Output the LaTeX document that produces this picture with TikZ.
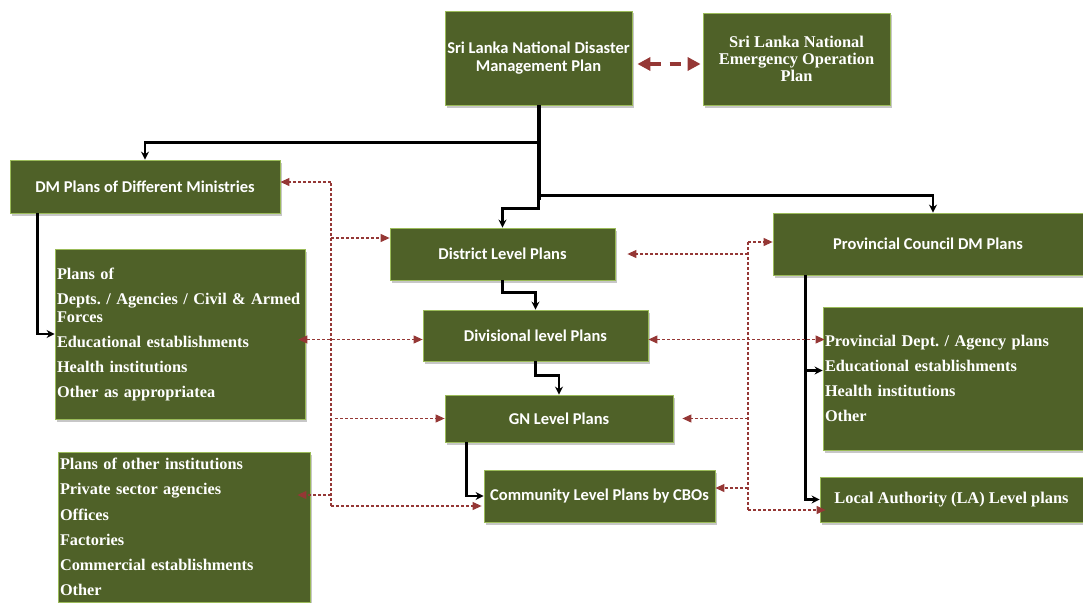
\documentclass[tikz,border=0pt]{standalone}
\usepackage{fontspec}
\setmainfont{Liberation Serif}
\newfontfamily\calfont{Carlito}
\usetikzlibrary{arrows.meta,shadows}
\definecolor{boxfill}{RGB}{79,97,40}
\definecolor{boxedge}{RGB}{155,187,89}
\definecolor{dred}{RGB}{149,55,53}
\frenchspacing
\begin{document}
\begin{tikzpicture}[x=1pt,y=-1pt,
  box/.style={draw=boxedge, line width=0.8pt, fill=boxfill, text=white, inner sep=0pt,
    drop shadow={shadow xshift=2pt,shadow yshift=-2.5pt,fill=black,opacity=0.22}},
  cal/.style={font=\calfont\bfseries\fontsize{16.5}{18}\selectfont\frenchspacing, align=center},
  tms/.style={font=\bfseries\fontsize{16.4}{17}\selectfont\frenchspacing},
  lst/.style={font=\bfseries\fontsize{16.3}{18}\selectfont\frenchspacing, align=left, inner xsep=2pt},
  dsh/.style={draw=dred, line width=1.1pt, dash pattern=on 3pt off 2pt},
  dtip/.style={-{Triangle[length=9pt,width=8pt]}},
  dtips/.style={{Triangle[length=9pt,width=8pt]}-{Triangle[length=9pt,width=8pt]}},
  blk/.style={line width=2.5pt, line join=miter, -{Stealth[length=8pt,width=8pt]}},
]
\useasboundingbox (0,0) rectangle (1083,602);

% boxes
\node[box,cal,minimum width=187pt,minimum height=94pt] (nat) at (538.5,58) {Sri Lanka National Disaster\\Management Plan};
\node[box,tms,align=center,minimum width=187pt,minimum height=92pt] (eop) at (796.5,59) {Sri Lanka National\\Emergency Operation\\Plan};
\node[box,cal,minimum width=270pt,minimum height=53pt] (dm) at (145,186.5) {DM Plans of Different Ministries};
\node[box,lst,text width=246pt,minimum height=170pt] (plof) at (180,334)
  {Plans of\\[7pt]Depts. / Agencies / Civil \& Armed\\Forces\\[7pt]Educational establishments\\[7pt]Health institutions\\[7pt]Other as appropriatea};
\node[box,cal,minimum width=225pt,minimum height=52pt] (dist) at (502.5,254) {District Level Plans};
\node[box,cal,minimum width=225pt,minimum height=51pt] (div) at (535.5,335.5) {Divisional level Plans};
\node[box,cal,minimum width=228pt,minimum height=47pt] (gn) at (559,418.5) {GN Level Plans};
\node[box,cal,minimum width=231pt,minimum height=52pt] (comm) at (599.5,496) {Community Level Plans by CBOs};
\node[box,cal,minimum width=310pt,minimum height=62pt] (prov) at (928,244) {Provincial Council DM Plans};
\node[box,lst,text width=256pt,minimum height=143pt] (pdept) at (953,378.5)
  {Provincial Dept. / Agency plans\\[7pt]Educational establishments\\[7pt]Health institutions\\[7pt]Other};
\node[box,tms,minimum width=263pt,minimum height=45pt] (la) at (951.5,499.5) {Local Authority (LA) Level plans};
\node[box,lst,text width=248pt,minimum height=150pt] (oth) at (184,527)
  {Plans of other institutions\\[7.2pt]Private sector agencies\\[7.2pt]Offices\\[7.2pt]Factories\\[7.2pt]Commercial establishments\\[7.2pt]Other};

% top dashed link
\draw[draw=dred, line width=3.5pt, dash pattern=on 11pt off 9pt,
  {Triangle[length=13pt,width=13pt]}-{Triangle[length=13pt,width=13pt]}]
  ([xshift=5pt,yshift=-6pt]nat.east) -- ([xshift=-2pt,yshift=-5pt]eop.west);

% black hierarchy connectors
\draw[line width=4pt] (nat.south) -- ++(0,95);
\draw[blk] (nat.south) -- ++(0,37) -| (dm.north);
\draw[blk] (nat.south) -- ++(0,90) -| ([xshift=5pt]prov.north);
\draw[blk] (nat.south) -- ++(0,103) -| (dist.north);
\draw[blk] ([xshift=28pt]dm.south west) |- (plof.west);
\draw[blk] (dist.south) -- ++(0,12) -| (div.north);
\draw[blk] (div.south) -- ++(0,14) -| (gn.north);
\draw[blk] ([xshift=22pt]gn.south west) |- (comm.west);
\draw[blk] ([xshift=33pt]prov.south west) |- ([yshift=8pt]pdept.west);
\draw[blk] ([xshift=33pt]prov.south west) |- (la.west);

% left dashed bus
\coordinate (lvt) at (331,182);
\coordinate (lvb) at (331,506);
\coordinate (dw) at ([yshift=16pt]dist.west);
\coordinate (ow) at ([xshift=-13pt,yshift=32pt]oth.east);
\draw[dsh] (lvb) -- (lvt);
\draw[dsh,dtip] (lvt) -- (dm.east |- lvt);
\draw[dsh,dtip] (lvt |- dw) -- (dw);
\draw[dsh,dtips] ([xshift=-7pt,yshift=-4pt]plof.east |- div.west) -- ([yshift=-4pt]div.west);
\draw[dsh,dtip] ([xshift=4pt]lvt |- gn.west) -- (gn.west);
\draw[dsh,dtip] (lvb) -- ([xshift=-2pt]comm.west |- lvb);
\draw[dsh,dtip] (lvt |- ow) -- (ow);

% right dashed bus
\coordinate (rvt) at (748,242);
\coordinate (rvb) at (748,510);
\coordinate (cw) at ([yshift=8pt]comm.east);
\draw[dsh] (rvt) -- (rvb);
\draw[dsh,dtip] (rvt) -- (prov.west |- rvt);
\draw[dsh,dtip] (rvt |- dist.east) -- ([xshift=12pt]dist.east);
\draw[dsh,dtips] ([yshift=-4pt]div.east) -- ([xshift=2pt,yshift=-4pt]pdept.west |- div.east);
\draw[dsh,dtip] (rvt |- gn.east) -- ([xshift=9pt]gn.east);
\draw[dsh,dtip] (rvt |- cw) -- (cw);
\draw[dsh,dtip] (rvb) -- ([xshift=6pt]la.west |- rvb);
\end{tikzpicture}
\end{document}
